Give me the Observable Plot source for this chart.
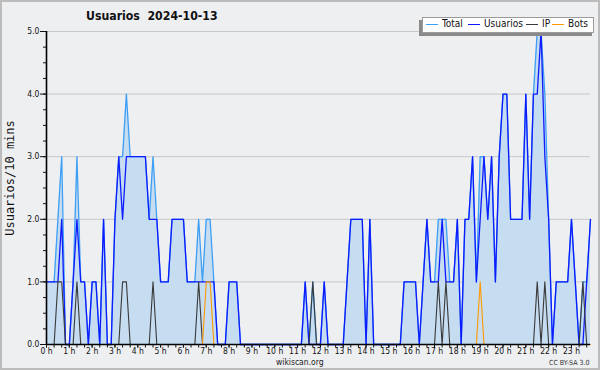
<!DOCTYPE html>
<html>
<head>
<meta charset="utf-8">
<script src="https://cdn.jsdelivr.net/npm/d3@7"></script>
<script src="https://cdn.jsdelivr.net/npm/@observablehq/plot@0.6"></script>
<style>
  html, body { margin: 0; padding: 0; background: #eeeff1; }
  #wrap { position: relative; width: 600px; height: 370px; overflow: hidden; background: #eeeff1;
          font-family: "DejaVu Sans Condensed", "DejaVu Sans", sans-serif; color: #111; }
  #chart { position: absolute; left: 0; top: 0; }
  #border { position: absolute; left: 0; top: 0; width: 600px; height: 370px; box-sizing: border-box;
            border: 2px solid #bcbcbc; pointer-events: none; }
  .abs { position: absolute; white-space: nowrap; }
  #title { left: 86px; top: 9px; font-size: 12.2px; font-weight: bold; line-height: 14px; }
  #legshadow { left: 419px; top: 20px; width: 173px; height: 16px; background: #8a8a8a; }
  #legbox { left: 422px; top: 17px; width: 170px; height: 14px; background: #ffffff; border: 1px solid #9a9a9a; }
  .legline { position: absolute; height: 1.2px; top: 24px; }
  .legtxt { position: absolute; top: 18px; font-size: 10px; line-height: 12px; color: #111; }
  #site { left: 276px; top: 356.5px; font-size: 8.5px; line-height: 10px; color: #222; }
  #lic { left: 549px; top: 358.5px; font-size: 7px; line-height: 8px; color: #333; }
</style>
</head>
<body>
<div id="wrap">
  <div id="chart"></div>
  <div id="title" class="abs"></div>
  <div id="legshadow" class="abs"></div>
  <div id="legbox" class="abs"></div>
  <div id="legend"></div>
  <div id="site" class="abs"></div>
  <div id="lic" class="abs"></div>
  <div id="border"></div>
</div>
<script>
// ---- data (10-minute slots, 144 per day) ----
const titleText = "Usuarios\u00a0\u00a02024-10-13";
const yAxisTitle = "Usuarios/10 mins";
const seriesNames = ["Total", "Usuarios", "IP", "Bots"];
const seriesColors = ["#3d9ff5", "#0d1bff", "#3a3a3a", "#ff9900"];
const hourLabels = ["0 h","1 h","2 h","3 h","4 h","5 h","6 h","7 h","8 h","9 h","10 h","11 h",
                    "12 h","13 h","14 h","15 h","16 h","17 h","18 h","19 h","20 h","21 h","22 h","23 h"];
const yTicks = [0, 1, 2, 3, 4, 5];
const yMinorTicks = [0,0.25,0.5,0.75,1,1.25,1.5,1.75,2,2.25,2.5,2.75,3,3.25,3.5,3.75,4,4.25,4.5,4.75,5];

const total = [
  1,1,1,2,3,0,0,1,3,1,1,0,
  1,1,0,2,0,0,2,3,3,4,3,3,
  3,3,3,2,3,2,1,1,1,2,2,2,
  2,1,1,1,2,1,2,2,1,0,0,0,
  1,1,1,0,0,0,0,0,0,0,0,0,
  0,0,0,0,0,0,0,0,1,0,1,0,
  0,1,0,0,0,0,0,1,2,2,2,2,
  0,2,0,0,0,0,0,0,0,0,1,1,
  1,1,0,1,2,1,1,2,2,2,1,1,
  2,0,2,2,3,1,3,3,2,3,1,3,
  4,4,2,2,2,2,4,2,4,5,5,4,
  2,0,1,1,1,1,2,1,0,1,1,2
];
const users = [
  1,1,1,1,2,0,0,1,2,1,1,0,
  1,1,0,2,0,0,2,3,2,3,3,3,
  3,3,3,2,2,2,1,1,1,2,2,2,
  2,1,1,1,1,1,1,1,1,0,0,0,
  1,1,1,0,0,0,0,0,0,0,0,0,
  0,0,0,0,0,0,0,0,1,0,0,0,
  0,1,0,0,0,0,0,1,2,2,2,2,
  0,2,0,0,0,0,0,0,0,0,1,1,
  1,1,0,1,2,1,1,1,2,1,1,1,
  2,0,2,2,3,1,2,3,2,3,1,3,
  4,4,2,2,2,2,4,2,4,4,5,3,
  2,0,1,1,1,1,2,1,0,0,1,2
];
const ip = [
  0,0,0,1,1,0,0,0,1,0,0,0,
  0,0,0,0,0,0,0,0,1,1,0,0,
  0,0,0,0,1,0,0,0,0,0,0,0,
  0,0,0,0,1,0,0,0,0,0,0,0,
  0,0,0,0,0,0,0,0,0,0,0,0,
  0,0,0,0,0,0,0,0,0,0,1,0,
  0,0,0,0,0,0,0,0,0,0,0,0,
  0,0,0,0,0,0,0,0,0,0,0,0,
  0,0,0,0,0,0,0,1,0,1,0,0,
  0,0,0,0,0,0,0,0,0,0,0,0,
  0,0,0,0,0,0,0,0,0,1,0,1,
  0,0,0,0,0,0,0,0,0,1,0,0
];
const bots = [
  0,0,0,0,0,0,0,0,0,0,0,0,
  0,0,0,0,0,0,0,0,0,0,0,0,
  0,0,0,0,0,0,0,0,0,0,0,0,
  0,0,0,0,0,0,1,1,0,0,0,0,
  0,0,0,0,0,0,0,0,0,0,0,0,
  0,0,0,0,0,0,0,0,0,0,0,0,
  0,0,0,0,0,0,0,0,0,0,0,0,
  0,0,0,0,0,0,0,0,0,0,0,0,
  0,0,0,0,0,0,0,0,0,0,0,0,
  0,0,0,0,0,0,1,0,0,0,0,0,
  0,0,0,0,0,0,0,0,0,0,0,0,
  0,0,0,0,0,0,0,0,0,0,0,0
];
const siteText = "wikiscan.org";
const licText = "CC BY-SA 3.0";

// ---- build table ----
const data = users.map((u, i) => ({ i, total: total[i], users: u, ip: ip[i], bots: bots[i] }));
const xMajor = hourLabels.map((_, h) => h * 6);
const xMinor = d3.range(0, users.length, 2);

const chart = Plot.plot({
  width: 600, height: 370,
  marginLeft: 46, marginRight: 10, marginTop: 31, marginBottom: 26,
  x: { domain: [0, users.length - 1], label: null, axis: null },
  y: { domain: [0, 5], label: null, axis: null },
  style: { background: "transparent", fontFamily: "'DejaVu Sans Condensed','DejaVu Sans',sans-serif", fontSize: "8.5px", color: "#111" },
  marks: [
    Plot.gridY(yTicks.filter(d => d > 0), { stroke: "#c8c8cc", strokeOpacity: 1, strokeWidth: 1 }),
    Plot.areaY(data, { x: "i", y: "total", fill: "#c6dcf0" }),
    Plot.lineY(data, { x: "i", y: "total", stroke: seriesColors[0], strokeWidth: 1.3 }),
    Plot.lineY(data, { x: "i", y: "users", stroke: seriesColors[1], strokeWidth: 1.3 }),
    Plot.lineY(data, { x: "i", y: "ip", stroke: seriesColors[2], strokeWidth: 1.1 }),
    Plot.lineY(data, { x: "i", y: "bots", stroke: seriesColors[3], strokeWidth: 1.1 }),
    Plot.ruleY([0], { stroke: "#000", strokeWidth: 1.6 }),
    Plot.ruleX([0], { stroke: "#000", strokeWidth: 1.6 }),
    Plot.axisX(xMinor, { anchor: "bottom", tickSize: 3.5, tickFormat: () => "", label: null }),
    Plot.axisX(xMajor, { anchor: "bottom", tickSize: 3.5, tickPadding: 0, tickFormat: d => hourLabels[d / 6], label: null }),
    Plot.axisY(yMinorTicks, { anchor: "left", tickSize: 3, tickFormat: () => "", label: null }),
    Plot.axisY(yTicks, { anchor: "left", tickSize: 6, tickPadding: 1, tickFormat: d => d.toFixed(1), label: null }),
    Plot.text([yAxisTitle], { frameAnchor: "left", textAnchor: "middle", rotate: -90, dx: -36, dy: -10,
                              fontFamily: "'DejaVu Sans Mono',monospace", fontSize: 12, fill: "#111" })
  ]
});
document.getElementById("chart").appendChild(chart);

document.getElementById("title").textContent = titleText;
document.getElementById("site").textContent = siteText;
document.getElementById("lic").textContent = licText;

// legend
const legend = document.getElementById("legend");
const lineX = [426, 468, 526, 552];
const textX = [442, 484, 542, 568];
seriesNames.forEach((name, k) => {
  const ln = document.createElement("div");
  ln.className = "legline";
  ln.style.left = lineX[k] + "px";
  ln.style.width = "12px";
  ln.style.background = seriesColors[k];
  legend.appendChild(ln);
  const tx = document.createElement("div");
  tx.className = "legtxt";
  tx.style.left = textX[k] + "px";
  tx.textContent = name;
  legend.appendChild(tx);
});
</script>
</body>
</html>
